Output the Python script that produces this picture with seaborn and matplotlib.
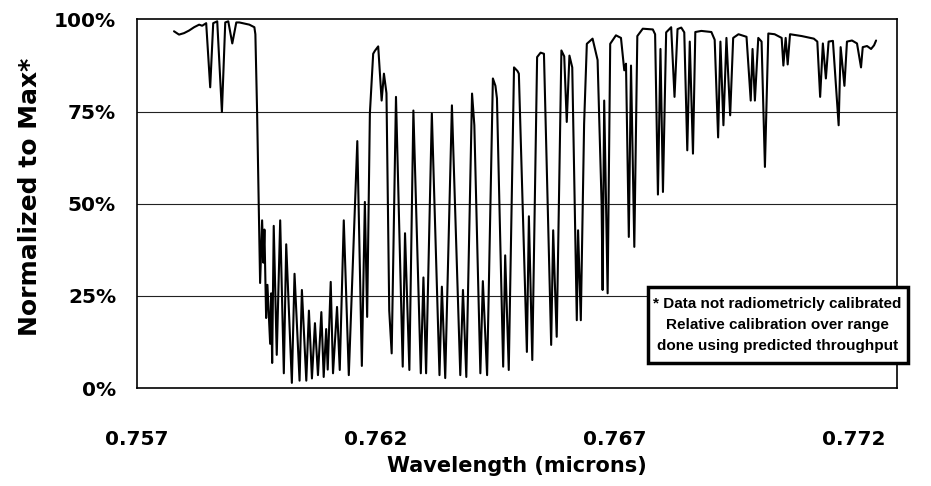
import numpy as np
import pandas as pd
import matplotlib
matplotlib.use("Agg")
import matplotlib.pyplot as plt
import matplotlib.ticker as mticker
from matplotlib.patches import Rectangle
import seaborn as sns

# wavelength (microns) and normalized signal (%)
wavelength = [
    0.757777, 0.757882, 0.757987, 0.758092, 0.758197, 0.758303, 0.758366, 0.758450,
    0.758534, 0.758597, 0.758681, 0.758779, 0.758849, 0.758912, 0.758996, 0.759080,
    0.759143, 0.759248, 0.759353, 0.759458, 0.759479, 0.759515, 0.759548, 0.759578,
    0.759620, 0.759647, 0.759668, 0.759704, 0.759731, 0.759788, 0.759809, 0.759830,
    0.759863, 0.759926, 0.759998, 0.760074, 0.760124, 0.760242, 0.760298, 0.760403,
    0.760452, 0.760544, 0.760599, 0.760662, 0.760725, 0.760788, 0.760859, 0.760908,
    0.760960, 0.760992, 0.761055, 0.761103, 0.761187, 0.761244, 0.761328, 0.761433,
    0.761611, 0.761706, 0.761769, 0.761817, 0.761874, 0.761943, 0.761979, 0.762048,
    0.762120, 0.762168, 0.762221, 0.762279, 0.762330, 0.762420, 0.762561, 0.762609,
    0.762700, 0.762784, 0.762939, 0.762994, 0.763050, 0.763170, 0.763330, 0.763380,
    0.763450, 0.763590, 0.763765, 0.763821, 0.763891, 0.764011, 0.764059, 0.764185,
    0.764237, 0.764326, 0.764447, 0.764500, 0.764532, 0.764662, 0.764704, 0.764779,
    0.764889, 0.764962, 0.764990, 0.765158, 0.765200, 0.765271, 0.765372, 0.765445,
    0.765515, 0.765666, 0.765708, 0.765739, 0.765782, 0.765880, 0.765939, 0.765992,
    0.766048, 0.766107, 0.766202, 0.766229, 0.766286, 0.766355, 0.766412, 0.766532,
    0.766637, 0.766721, 0.766742, 0.766775, 0.766847, 0.766901, 0.767021, 0.767126,
    0.767195, 0.767231, 0.767290, 0.767336, 0.767405, 0.767468, 0.767582, 0.767792,
    0.767840, 0.767899, 0.767952, 0.768004, 0.768071, 0.768176, 0.768246, 0.768309,
    0.768387, 0.768450, 0.768513, 0.768565, 0.768632, 0.768681, 0.768807, 0.769017,
    0.769086, 0.769158, 0.769206, 0.769269, 0.769332, 0.769410, 0.769473, 0.769584,
    0.769752, 0.769840, 0.769878, 0.769927, 0.769998, 0.770067, 0.770137, 0.770208,
    0.770340, 0.770487, 0.770523, 0.770571, 0.770613, 0.770662, 0.770908, 0.771160,
    0.771233, 0.771292, 0.771349, 0.771412, 0.771469, 0.771559, 0.771679, 0.771721,
    0.771800, 0.771853, 0.771958, 0.772063, 0.772147, 0.772183, 0.772273, 0.772357,
    0.772420, 0.772462,
]
signal = [
    96.8, 95.9, 96.3, 97.0, 97.9, 98.6, 98.3, 99.0,
    81.6, 99.0, 99.5, 74.9, 99.2, 99.5, 93.5, 99.2,
    99.2, 98.9, 98.6, 97.9, 96.0, 75.0, 50.0, 28.5,
    45.5, 34.0, 43.0, 19.0, 28.0, 12.0, 25.7, 6.8,
    44.0, 9.0, 45.5, 4.0, 39.0, 1.4, 31.0, 2.0,
    26.6, 2.0, 21.0, 2.6, 17.6, 3.5, 20.6, 3.0,
    16.0, 5.0, 28.8, 4.0, 22.0, 4.9, 45.5, 3.5,
    67.0, 6.0, 50.5, 19.3, 74.5, 90.7, 91.5, 92.7,
    78.0, 85.3, 80.0, 21.0, 9.4, 79.0, 5.8, 42.0,
    4.9, 75.3, 4.0, 30.0, 4.0, 74.5, 3.5, 27.5,
    2.7, 76.7, 3.5, 26.6, 3.0, 79.9, 71.3, 4.0,
    29.0, 3.5, 84.0, 82.0, 78.6, 5.8, 36.0, 4.9,
    87.0, 86.0, 85.3, 9.8, 46.6, 7.6, 89.8, 91.0,
    90.7, 11.7, 42.8, 30.0, 13.9, 91.6, 90.0, 72.2,
    90.2, 87.0, 18.4, 42.8, 18.4, 71.7, 93.4, 94.8,
    89.0, 50.0, 26.6, 78.0, 25.7, 93.4, 95.7, 95.0,
    86.2, 88.0, 41.0, 87.5, 38.3, 95.5, 97.5, 97.3,
    96.0, 52.5, 92.0, 53.2, 96.5, 97.9, 79.0, 97.4,
    97.8, 96.5, 64.5, 94.0, 63.6, 96.6, 96.9, 96.6,
    94.5, 68.0, 94.0, 71.3, 95.0, 74.0, 95.0, 96.0,
    95.3, 78.0, 92.0, 78.0, 95.0, 94.0, 60.0, 96.2,
    96.0, 95.0, 87.5, 95.0, 87.8, 96.0, 95.5, 94.8,
    94.0, 79.0, 93.5, 84.0, 94.0, 94.2, 71.3, 92.5,
    82.0, 94.0, 94.3, 93.5, 87.0, 92.5, 92.8, 92.0,
    93.0, 94.3,
]

x_labels = [0.757, 0.762, 0.767, 0.772]
y_ticks = [0, 25, 50, 75, 100]
note = ("* Data not radiometricly calibrated\n"
        "Relative calibration over range\n"
        "done using predicted throughput")

df = pd.DataFrame({"wavelength": wavelength, "signal": signal})

sns.set_style("white")
plt.rcParams["font.family"] = ["DejaVu Sans"]
plt.rcParams["font.weight"] = "bold"
plt.rcParams["text.color"] = "black"
plt.rcParams["axes.labelcolor"] = "black"

fig = plt.figure(figsize=(9.31, 4.86), dpi=100)
ax = fig.add_axes([0.147, 0.2016, 0.8165, 0.7583])

for g in [25, 50, 75]:
    ax.axhline(g, color="#222222", lw=0.8, zorder=1)

sns.lineplot(data=df, x="wavelength", y="signal", ax=ax, color="black",
             lw=1.5, estimator=None, sort=False, zorder=3)

ax.set_xlim(0.757, 0.7729)
ax.set_ylim(0, 100)
ax.set_xticks(x_labels)
ax.xaxis.set_major_formatter(mticker.FormatStrFormatter("%.3f"))
ax.xaxis.set_minor_locator(mticker.MultipleLocator(0.001))
ax.set_yticks(y_ticks)
ax.yaxis.set_major_formatter(mticker.PercentFormatter(decimals=0))
ax.yaxis.set_minor_locator(mticker.MultipleLocator(5))

ax.tick_params(axis="x", which="both", direction="in", length=5, width=1,
               pad=30, labelsize=14.5)
ax.tick_params(axis="y", which="major", direction="out", length=10, width=1,
               pad=5, labelsize=14.5)
ax.tick_params(axis="y", which="minor", direction="in", length=4, width=1)
ax.tick_params(axis="both", colors="black")

for s in ax.spines.values():
    s.set_color("black")
    s.set_linewidth(1.2)

ax.set_xlabel("Wavelength (microns)", fontsize=15, fontweight="bold",
              color="black", labelpad=5)
ax.set_ylabel("Normalized to Max*", fontsize=18, fontweight="bold", color="black")
ax.yaxis.set_label_coords(-0.125, 0.52)

box = Rectangle((0.672, 0.068), 0.3425, 0.206, transform=ax.transAxes,
                facecolor="white", edgecolor="black", lw=2.5, clip_on=False, zorder=5)
ax.add_patch(box)
ax.text(0.843, 0.171, note, transform=ax.transAxes, ha="center", va="center",
        fontsize=11, fontweight="bold", family="Liberation Sans",
        linespacing=1.65, zorder=6)

fig.savefig("out.png", dpi=100)
